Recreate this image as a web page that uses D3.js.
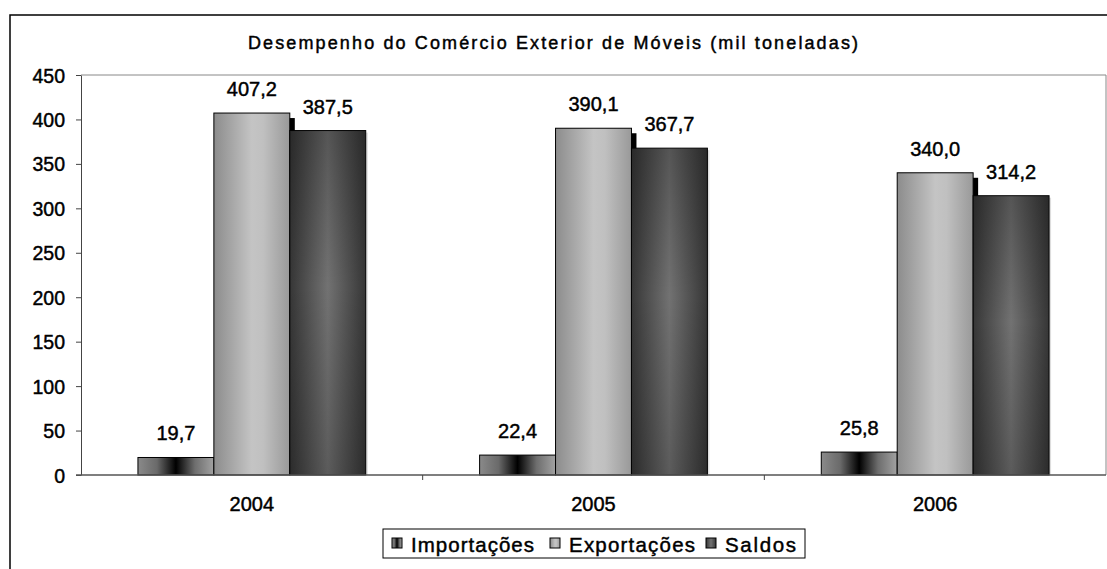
<!DOCTYPE html>
<html>
<head>
<meta charset="utf-8">
<script src="https://cdn.jsdelivr.net/npm/d3@7"></script>
<style>
  html, body { margin: 0; padding: 0; background: #fff; }
  svg { display: block; }
  text { font-family: "Liberation Sans", Arial, sans-serif; fill: #000; stroke: #000; stroke-width: 0.45px; }
</style>
</head>
<body>
<svg id="chart" width="1107" height="569"></svg>
<script>
(function () {
  "use strict";

  // data
  var years = ["2004", "2005", "2006"];
  var series = ["Importações", "Exportações", "Saldos"];
  var importacoes = [19.7, 22.4, 25.8];
  var exportacoes = [407.2, 390.1, 340.0];
  var saldos = [387.5, 367.7, 314.2];
  var yTicks = [0, 50, 100, 150, 200, 250, 300, 350, 400, 450];
  var title = "Desempenho do Comércio Exterior de Móveis (mil toneladas)";

  var values = [importacoes, exportacoes, saldos];
  var rows = [];
  years.forEach(function (yr, i) {
    series.forEach(function (s, j) {
      rows.push({ year: yr, serie: s, idx: j, value: values[j][i] });
    });
  });

  var fmt = function (v) { return d3.format(".1f")(v).replace(".", ","); };

  var svg = d3.select("#chart");
  var left = 81, right = 1106, top = 75, bottom = 475;

  var x = d3.scaleBand().domain(years).range([left, right]).padding(0);
  var xs = d3.scaleBand().domain(series).range([0, x.bandwidth()])
      .paddingInner(0).paddingOuter(0.75);
  var y = d3.scaleLinear().domain([0, 450]).range([bottom, top]);

  // gradients
  var defs = svg.append("defs");
  function hgrad(id, stops) {
    var g = defs.append("linearGradient").attr("id", id)
        .attr("x1", 0).attr("x2", 1).attr("y1", 0).attr("y2", 0);
    stops.forEach(function (s) {
      g.append("stop").attr("offset", s[0]).attr("stop-color", s[1]);
    });
  }
  hgrad("g0", [[0, "#8a8a8a"], [0.25, "#6a6a6a"], [0.5, "#000"], [0.75, "#6e6e6e"], [1, "#a2a2a2"]]);
  hgrad("g1", [[0, "#8c8c8c"], [0.5, "#c4c4c4"], [0.65, "#c0c0c0"], [1, "#999"]]);
  hgrad("g2", [[0, "#363636"], [0.5, "#727272"], [1, "#363636"]]);
  var vg = defs.append("linearGradient").attr("id", "gv")
      .attr("x1", 0).attr("x2", 0).attr("y1", 0).attr("y2", 1);
  vg.append("stop").attr("offset", 0).attr("stop-color", "#000").attr("stop-opacity", 0.25);
  vg.append("stop").attr("offset", 0.45).attr("stop-color", "#000").attr("stop-opacity", 0);
  vg.append("stop").attr("offset", 1).attr("stop-color", "#000").attr("stop-opacity", 0.2);
  var fills = ["url(#g0)", "url(#g1)", "url(#g2)"];

  // outer frame
  svg.append("rect")
      .attr("x", 10).attr("y", 15).attr("width", 1110).attr("height", 570)
      .attr("fill", "none").attr("stroke", "#000").attr("stroke-width", 1.5);

  // plot frame (top + right)
  svg.append("path")
      .attr("d", "M" + left + "," + top + "H" + right + "V" + bottom)
      .attr("fill", "none").attr("stroke", "#888").attr("stroke-width", 1);

  // title
  svg.append("text")
      .attr("x", 553).attr("y", 49)
      .attr("text-anchor", "middle")
      .attr("textLength", 610).attr("lengthAdjust", "spacing")
      .style("font-size", "18px")
      .text(title);

  // y axis
  var yAxis = svg.append("g")
      .attr("transform", "translate(" + left + ",0)")
      .call(d3.axisLeft(y).tickValues(yTicks).tickSize(5).tickSizeOuter(0).tickPadding(11));
  yAxis.select(".domain").attr("stroke", "#444");
  yAxis.selectAll(".tick line").attr("stroke", "#444");
  yAxis.selectAll(".tick text")
      .attr("dy", "0.36em")
      .attr("font-family", null).attr("font-size", null)
      .style("font-size", "19.5px");

  // bars
  var g = svg.append("g");
  var bars = g.selectAll("g.bar").data(rows).join("g").attr("class", "bar")
      .attr("transform", function (d) { return "translate(" + (x(d.year) + xs(d.serie)) + ",0)"; });

  // shadows
  bars.filter(function (d) { return d.idx === 1; }).append("rect")
      .attr("x", 5).attr("y", function (d) { return y(d.value) + 5; })
      .attr("width", xs.bandwidth())
      .attr("height", function (d) { return y(0) - y(d.value) - 5; })
      .attr("fill", "#000");
  bars.filter(function (d) { return d.idx === 2; }).append("rect")
      .attr("x", 2).attr("y", function (d) { return y(d.value) + 2; })
      .attr("width", xs.bandwidth())
      .attr("height", function (d) { return y(0) - y(d.value) - 2; })
      .attr("fill", "#ddd");

  bars.append("rect")
      .attr("x", 0).attr("y", function (d) { return y(d.value); })
      .attr("width", xs.bandwidth())
      .attr("height", function (d) { return y(0) - y(d.value); })
      .attr("fill", function (d) { return fills[d.idx]; })
      .attr("stroke", "#000").attr("stroke-width", 1);
  bars.filter(function (d) { return d.idx === 2; }).append("rect")
      .attr("x", 0.5).attr("y", function (d) { return y(d.value) + 0.5; })
      .attr("width", xs.bandwidth() - 1)
      .attr("height", function (d) { return y(0) - y(d.value) - 1; })
      .attr("fill", "url(#gv)");

  // value labels
  bars.append("text")
      .attr("x", xs.bandwidth() / 2)
      .attr("y", function (d) { return y(d.value) - 17; })
      .attr("text-anchor", "middle")
      .style("font-size", "20px")
      .text(function (d) { return fmt(d.value); });

  // x axis
  svg.append("line")
      .attr("x1", left - 5).attr("x2", right)
      .attr("y1", bottom).attr("y2", bottom)
      .attr("stroke", "#555").attr("stroke-width", 1.5);
  svg.selectAll("line.xtick").data(years.slice(1)).join("line").attr("class", "xtick")
      .attr("x1", function (d) { return x(d); }).attr("x2", function (d) { return x(d); })
      .attr("y1", bottom).attr("y2", bottom + 5)
      .attr("stroke", "#444");
  svg.selectAll("text.xlab").data(years).join("text").attr("class", "xlab")
      .attr("x", function (d) { return x(d) + x.bandwidth() / 2; })
      .attr("y", 511)
      .attr("text-anchor", "middle")
      .style("font-size", "20px")
      .text(function (d) { return d; });

  // legend
  var lg = svg.append("g");
  lg.append("rect")
      .attr("x", 383).attr("y", 529).attr("width", 422).attr("height", 29)
      .attr("fill", "#fff").attr("stroke", "#000").attr("stroke-width", 1);
  var legendX = [392, 550, 706];
  var legendW = [123, 126, 71];
  series.forEach(function (s, j) {
    lg.append("rect")
        .attr("x", legendX[j]).attr("y", 538).attr("width", 10).attr("height", 10)
        .attr("fill", fills[j]).attr("stroke", "#000").attr("stroke-width", 1);
    lg.append("text")
        .attr("x", legendX[j] + 19).attr("y", 552)
        .attr("textLength", legendW[j]).attr("lengthAdjust", "spacing")
        .style("font-size", "20.5px")
        .text(s);
  });
}());
</script>
</body>
</html>
